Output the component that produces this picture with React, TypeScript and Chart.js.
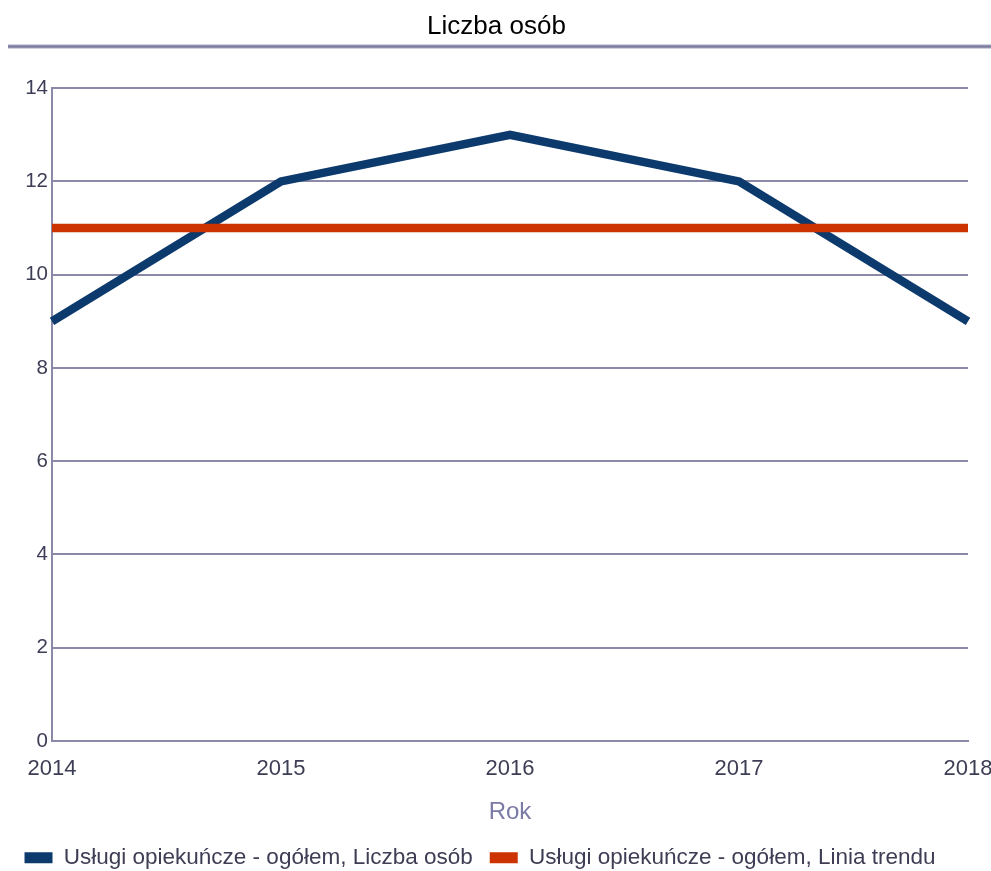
import React, { useEffect, useRef } from "react";
import { Chart, registerables } from "chart.js";

Chart.register(...registerables);

const years = ["2014", "2015", "2016", "2017", "2018"];
const liczbaOsob = [9, 12, 13, 12, 9];
const liniaTrendu = [11, 11, 11, 11, 11];
const yTicks = [0, 2, 4, 6, 8, 10, 12, 14];

const FONT = "'Liberation Sans', Arial, sans-serif";

const separatorPlugin = {
  id: "separator",
  afterLayout(chart: any) {
    if (chart.legend) {
      chart.legend.left -= 8;
      chart.legend.right -= 8;
    }
    if (chart.titleBlock) {
      chart.titleBlock.left += 8.5;
      chart.titleBlock.right += 8.5;
    }
  },
  afterDraw(chart: any) {
    const ctx = chart.ctx;
    ctx.save();
    ctx.fillStyle = "#a4a4c0";
    ctx.fillRect(0, 36.5, chart.width, 4);
    ctx.fillStyle = "#7c7ca0";
    ctx.fillRect(0, 37.5, chart.width, 2);
    ctx.restore();
  },
};

export default function App() {
  const ref = useRef<HTMLCanvasElement | null>(null);
  useEffect(() => {
    if (!ref.current) return;
    const chart = new Chart(ref.current, {
      type: "line",
      data: {
        labels: years,
        datasets: [
          {
            label: "Usługi opiekuńcze - ogółem, Liczba osób",
            data: liczbaOsob,
            borderColor: "#0c3a6d",
            backgroundColor: "#0c3a6d",
            borderWidth: 8.5,
            pointRadius: 0,
            borderJoinStyle: "miter",
            tension: 0,
            order: 1,
          },
          {
            label: "Usługi opiekuńcze - ogółem, Linia trendu",
            data: liniaTrendu,
            borderColor: "#cc3300",
            backgroundColor: "#cc3300",
            borderWidth: 8.5,
            pointRadius: 0,
            tension: 0,
            order: 0,
          },
        ],
      },
      options: {
        animation: false,
        responsive: false,
        layout: { padding: { left: 0, right: 23, top: 0, bottom: 0 } },
        plugins: {
          title: {
            display: true,
            text: "Liczba osób",
            color: "#000000",
            font: { family: FONT, size: 26, weight: "normal" },
            padding: { top: 3, bottom: 46 },
          },
          legend: {
            position: "bottom",
            labels: {
              boxWidth: 28,
              boxHeight: 11,
              color: "#3d3d55",
              font: { family: FONT, size: 22.5 },
              padding: 17,
              sort: (a: any, b: any) => a.datasetIndex - b.datasetIndex,
              generateLabels: (c: any) =>
                Chart.defaults.plugins.legend.labels
                  .generateLabels(c)
                  .map((l: any) => ({ ...l, lineWidth: 0 })),
            },
          },
          tooltip: { enabled: false },
        },
        scales: {
          x: {
            offset: false,
            afterFit: (scale: any) => {
              scale.height = 88.5;
              scale.paddingLeft = 0;
              scale.paddingRight = 0;
            },
            grid: { display: false, drawTicks: false },
            border: { display: true, color: "#8a8aa8", width: 2 },
            ticks: {
              color: "#3d3d55",
              font: { family: FONT, size: 22 },
              padding: 15,
              maxRotation: 0,
              autoSkip: false,
            },
            title: {
              display: true,
              text: "Rok",
              color: "#7a7aa5",
              font: { family: FONT, size: 24 },
              padding: { top: 0, bottom: 3 },
            },
          },
          y: {
            min: 0,
            max: 14,
            afterBuildTicks: (scale: any) => {
              scale.ticks = yTicks.map((v) => ({ value: v }));
            },
            afterFit: (scale: any) => {
              scale.width = 44;
            },
            grid: { color: "#8a8aa8", lineWidth: 2, drawTicks: false },
            border: { display: true, color: "#8a8aa8", width: 2 },
            ticks: {
              color: "#3d3d55",
              font: { family: FONT, size: 20.5 },
              padding: 4,
            },
          },
        },
      },
      plugins: [separatorPlugin],
    });
    return () => chart.destroy();
  }, []);
  return (
    <div style={{ position: "absolute", left: 8, top: 8, width: 983, height: 863, overflow: "hidden" }}>
      <canvas ref={ref} width={983} height={871} style={{ display: "block" }} />
    </div>
  );
}
